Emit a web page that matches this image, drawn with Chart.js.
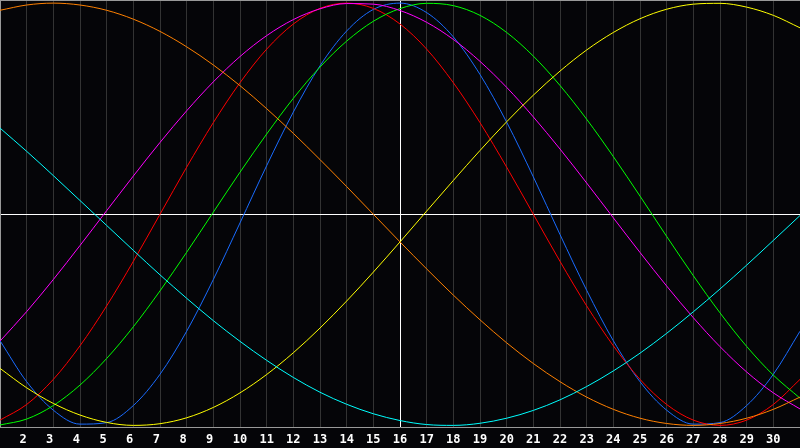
<!DOCTYPE html>
<html>
<head>
<meta charset="utf-8">
<script src="https://cdn.jsdelivr.net/npm/chart.js@4.4.1/dist/chart.umd.min.js"></script>
<style>
  html, body { margin: 0; padding: 0; background: #050508; }
  canvas { display: block; }
</style>
</head>
<body>
<canvas id="bioChart" width="800" height="448"></canvas>
<script>
// days of the month on the x axis
const days = [1, 2, 3, 4, 5, 6, 7, 8, 9, 10, 11, 12, 13, 14, 15, 16,
  17, 18, 19, 20, 21, 22, 23, 24, 25, 26, 27, 28, 29, 30, 31];
const labeledDays = [2, 3, 4, 5, 6, 7, 8, 9, 10, 11, 12, 13, 14, 15, 16,
  17, 18, 19, 20, 21, 22, 23, 24, 25, 26, 27, 28, 29, 30];

// curve values, one per day
const blue = [-0.599, -0.793, -0.928, -0.994, -0.987, -0.906, -0.758, -0.554, -0.309,
  -0.041, 0.230, 0.484, 0.703, 0.868, 0.970, 1.000, 0.955, 0.840, 0.662, 0.436, 0.177,
  -0.096, -0.360, -0.599, -0.793, -0.928, -0.994, -0.987, -0.906, -0.758, -0.554];
const red = [-0.975, -0.901, -0.782, -0.623, -0.434, -0.223, 0.000, 0.223, 0.434, 0.623,
  0.782, 0.901, 0.975, 1.000, 0.975, 0.901, 0.782, 0.623, 0.434, 0.223, 0.000, -0.223,
  -0.434, -0.623, -0.782, -0.901, -0.975, -1.000, -0.975, -0.901, -0.782];
const green = [-0.998, -0.970, -0.906, -0.809, -0.683, -0.533, -0.363, -0.180, 0.010,
  0.199, 0.380, 0.549, 0.697, 0.820, 0.914, 0.974, 0.999, 0.988, 0.942, 0.861, 0.749,
  0.610, 0.450, 0.273, 0.086, -0.105, -0.291, -0.467, -0.626, -0.762, -0.871];
const magenta = [-0.601, -0.461, -0.309, -0.148, 0.017, 0.181, 0.340, 0.490, 0.627,
  0.747, 0.846, 0.922, 0.973, 0.998, 0.995, 0.965, 0.909, 0.828, 0.724, 0.601, 0.461,
  0.309, 0.148, -0.017, -0.181, -0.340, -0.490, -0.627, -0.747, -0.846, -0.922];
const yellow = [-0.730, -0.822, -0.896, -0.951, -0.986, -1.000, -0.992, -0.964, -0.915,
  -0.846, -0.759, -0.656, -0.539, -0.411, -0.274, -0.131, 0.015, 0.160, 0.302, 0.438,
  0.564, 0.678, 0.778, 0.861, 0.926, 0.971, 0.995, 0.999, 0.981, 0.942, 0.883];
const orange = [0.966, 0.991, 1.000, 0.991, 0.966, 0.924, 0.866, 0.793, 0.707, 0.609,
  0.500, 0.383, 0.259, 0.131, 0.000, -0.131, -0.259, -0.383, -0.500, -0.609, -0.707,
  -0.793, -0.866, -0.924, -0.966, -0.991, -1.000, -0.991, -0.966, -0.924, -0.866];
const cyan = [0.408, 0.298, 0.183, 0.065, -0.053, -0.171, -0.287, -0.398, -0.504, -0.602,
  -0.692, -0.773, -0.843, -0.900, -0.945, -0.977, -0.996, -1.000, -0.990, -0.966, -0.929,
  -0.879, -0.816, -0.742, -0.658, -0.564, -0.462, -0.354, -0.241, -0.124, -0.006];

const series = [
  { values: cyan, color: '#00ffff' },
  { values: orange, color: '#ff8000' },
  { values: yellow, color: '#ffff00' },
  { values: magenta, color: '#ff00ff' },
  { values: green, color: '#00ff00' },
  { values: red, color: '#ff0000' },
  { values: blue, color: '#1a6cff' }
];

const frame = {
  id: 'frame',
  beforeDraw(chart) {
    const c = chart.ctx;
    c.save();
    c.fillStyle = '#050508';
    c.fillRect(0, 0, chart.width, chart.height);
    c.restore();
  },
  afterDraw(chart) {
    const c = chart.ctx;
    c.save();
    c.strokeStyle = '#999999';
    c.lineWidth = 1;
    c.beginPath();
    c.moveTo(0, 0.5);
    c.lineTo(chart.width, 0.5);
    c.stroke();
    c.restore();
  }
};

new Chart(document.getElementById('bioChart').getContext('2d'), {
  type: 'line',
  data: {
    datasets: series.map(s => ({
      data: days.map((d, i) => ({ x: d, y: s.values[i] })),
      borderColor: s.color,
      borderWidth: 1,
      pointRadius: 0,
      cubicInterpolationMode: 'monotone',
      fill: false
    }))
  },
  options: {
    responsive: false,
    animation: false,
    devicePixelRatio: 1,
    layout: { padding: { top: 1, left: 0, right: 0, bottom: 0 } },
    plugins: {
      legend: { display: false },
      tooltip: { enabled: false }
    },
    scales: {
      x: {
        type: 'linear',
        min: 1,
        max: 31,
        afterBuildTicks: scale => { scale.ticks = days.map(d => ({ value: d })); },
        afterFit: scale => {
          scale.paddingLeft = 0;
          scale.paddingRight = 0;
          scale.height = 20.5;
        },
        grid: {
          drawTicks: false,
          color: ctx => ctx.tick.value === 16 ? '#ffffff'
            : ctx.tick.value === 1 ? '#999999' : '#333333'
        },
        border: { color: '#999999' },
        ticks: {
          padding: 5,
          maxRotation: 0,
          autoSkip: false,
          color: '#ffffff',
          font: { family: 'DejaVu Sans Mono', size: 12, weight: 'bold' },
          callback: v => labeledDays.includes(v) ? (v < 10 ? v + ' ' : String(v)) : ''
        }
      },
      y: {
        min: -1.01,
        max: 1.01,
        afterBuildTicks: scale => { scale.ticks = [{ value: 0 }]; },
        grid: {
          drawTicks: false,
          color: ctx => ctx.tick.value === 0 ? '#ffffff' : 'transparent'
        },
        border: { color: '#999999' },
        ticks: { display: false }
      }
    }
  },
  plugins: [frame]
});
</script>
</body>
</html>
